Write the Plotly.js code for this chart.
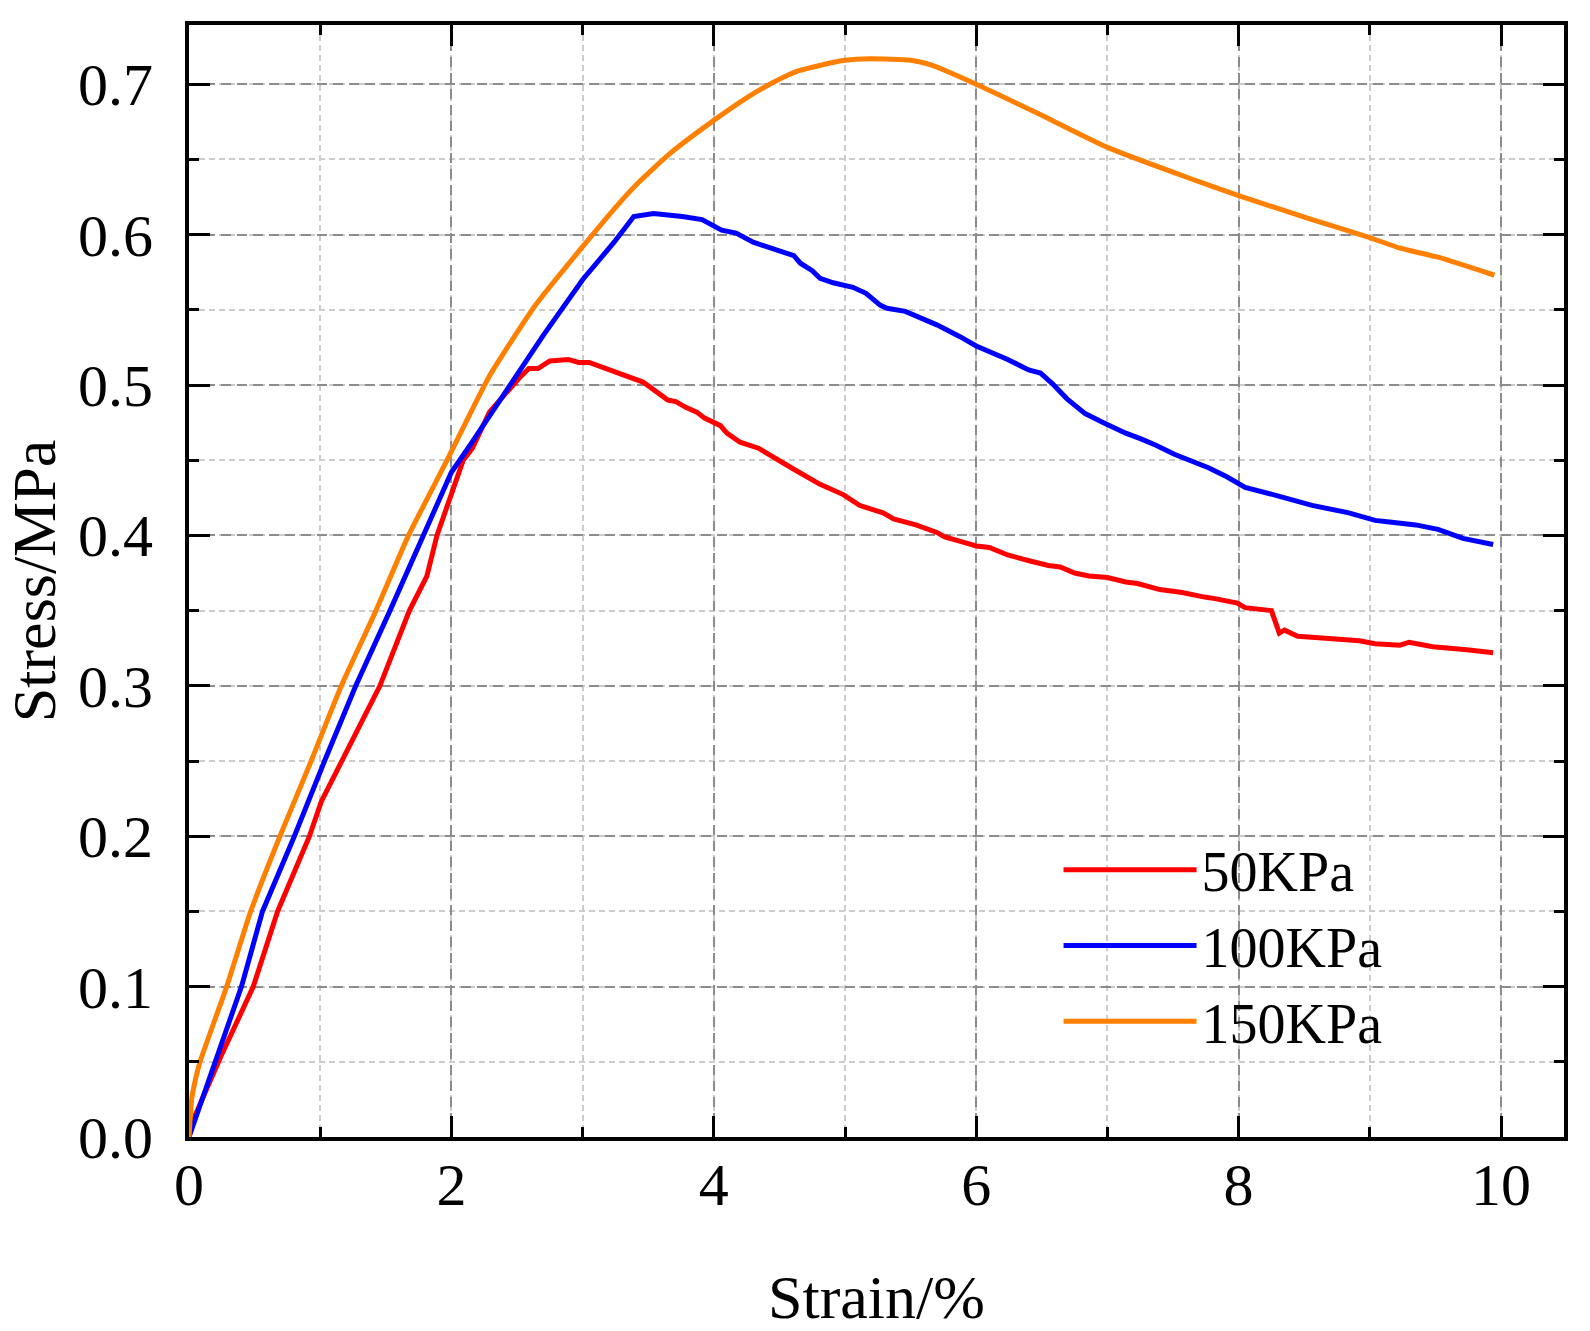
<!DOCTYPE html>
<html>
<head>
<meta charset="utf-8">
<script src="https://cdn.plot.ly/plotly-3.0.1.min.js"></script>
<style>
  body { margin: 0; background: #fff; }
  #chart_div { width: 1590px; height: 1331px; }
</style>
</head>
<body>
<div id="chart_div"></div>
<script>
// series (strain %, stress MPa)
var names = ["50KPa", "100KPa", "150KPa"];
var colors = ["#ff0000", "#0000ff", "#ff8000"];

var strain50 = [0, 0.03, 0.24, 0.49, 0.675, 0.918, 1.008, 1.161, 1.455, 1.68, 1.813, 1.89, 1.99, 2.09, 2.16,
    2.29, 2.51, 2.59, 2.66, 2.75, 2.89, 2.97, 3.05, 3.27, 3.41, 3.46, 3.65, 3.71, 3.79, 3.87, 3.93, 4.05,
    4.10, 4.20, 4.34, 4.45, 4.61, 4.81, 4.99, 5.11, 5.29, 5.37, 5.54, 5.70, 5.76, 5.88, 6.0, 6.10, 6.24,
    6.41, 6.55, 6.64, 6.75, 6.86, 7.0, 7.14, 7.23, 7.40, 7.57, 7.74, 7.82, 7.99, 8.05, 8.25, 8.31, 8.35,
    8.45, 8.61, 8.75, 8.92, 9.04, 9.23, 9.30, 9.48, 9.74, 9.94];
var stress50 = [0, 0.011, 0.053, 0.1, 0.15, 0.2, 0.223, 0.25, 0.3, 0.35, 0.373, 0.4, 0.424, 0.45, 0.458,
    0.482, 0.504, 0.511, 0.511, 0.516, 0.517, 0.515, 0.515, 0.508, 0.503, 0.502, 0.490, 0.489, 0.485,
    0.482, 0.478, 0.473, 0.468, 0.462, 0.458, 0.452, 0.444, 0.434, 0.427, 0.420, 0.415, 0.411, 0.407,
    0.402, 0.399, 0.396, 0.393, 0.392, 0.387, 0.383, 0.380, 0.379, 0.375, 0.373, 0.372, 0.369, 0.368,
    0.364, 0.362, 0.359, 0.358, 0.355, 0.352, 0.350, 0.335, 0.337, 0.333, 0.332, 0.331, 0.330, 0.328,
    0.327, 0.329, 0.326, 0.324, 0.322];

var strain100 = [0, 0.40, 0.56, 0.803, 1.033, 1.271, 1.532, 1.788, 2.0, 2.15, 2.42, 2.70, 3.0, 3.24,
    3.39, 3.54, 3.76, 3.91, 4.06, 4.17, 4.30, 4.47, 4.61, 4.66, 4.75, 4.81, 4.91, 5.06, 5.16, 5.27, 5.32,
    5.46, 5.57, 5.70, 5.88, 6.0, 6.24, 6.40, 6.49, 6.58, 6.69, 6.83, 6.97, 7.14, 7.26, 7.37, 7.51, 7.62,
    7.77, 7.91, 8.05, 8.27, 8.56, 8.84, 9.04, 9.15, 9.35, 9.52, 9.71, 9.94];
var stress100 = [0, 0.1, 0.15, 0.2, 0.25, 0.3, 0.35, 0.4, 0.442, 0.461, 0.496, 0.533, 0.570, 0.595,
    0.612, 0.614, 0.612, 0.610, 0.603, 0.601, 0.595, 0.590, 0.586, 0.581, 0.576, 0.571, 0.568, 0.565,
    0.561, 0.553, 0.551, 0.549, 0.545, 0.540, 0.532, 0.526, 0.517, 0.510, 0.508, 0.501, 0.491, 0.481,
    0.475, 0.468, 0.464, 0.460, 0.454, 0.450, 0.445, 0.439, 0.432, 0.427, 0.420, 0.415, 0.410, 0.409,
    0.407, 0.404, 0.398, 0.394];

var strain150 = [0, 0.02, 0.046, 0.084, 0.287, 0.47, 0.693, 0.931, 1.161, 1.425, 1.673, 1.967, 2.29,
    2.64, 3.0, 3.28, 3.43, 3.68, 4.0, 4.25, 4.47, 4.65, 4.83, 5.0, 5.19, 5.5, 5.65, 6.0, 6.46, 7.0, 7.61,
    8.0, 8.56, 9.0, 9.23, 9.52, 9.95];
var stress150 = [0, 0.025, 0.037, 0.05, 0.1, 0.15, 0.2, 0.25, 0.3, 0.35, 0.4, 0.45, 0.506, 0.553,
    0.592, 0.621, 0.635, 0.655, 0.676, 0.691, 0.702, 0.709, 0.713, 0.716, 0.717, 0.716, 0.713, 0.700,
    0.681, 0.658, 0.638, 0.626, 0.610, 0.598, 0.591, 0.585, 0.573];

var xTicks = [0, 2, 4, 6, 8, 10];
var yTicks = [0.0, 0.1, 0.2, 0.3, 0.4, 0.5, 0.6, 0.7];

function drawChart() {
    var xs = [strain50, strain100, strain150];
    var ys = [stress50, stress100, stress150];
    var data = [];
    for (var i = 0; i < 3; i++) {
        data.push({
            x: xs[i],
            y: ys[i],
            type: 'scatter',
            mode: 'lines',
            name: names[i],
            line: { color: colors[i], width: 5 }
        });
    }
    // the 150KPa curve is smooth in the original
    data[2].line.shape = 'spline';
    data[2].line.smoothing = 0.5;

    var serif = "Liberation Serif, Times New Roman, serif";

    function axisStyle() {
        return {
            showline: true,
            linecolor: 'black',
            linewidth: 4,
            mirror: 'allticks',
            ticks: 'inside',
            ticklen: 21,
            tickwidth: 3,
            tickcolor: 'black',
            zeroline: false,
            showgrid: true,
            gridcolor: '#8c8c8c',
            gridwidth: 2,
            griddash: '10px,6px',
            tickfont: { family: serif, size: 60, color: 'black' },
            minor: {
                ticks: 'inside',
                ticklen: 10,
                tickwidth: 3,
                tickcolor: 'black',
                showgrid: true,
                gridcolor: '#cccccc',
                gridwidth: 1.5,
                griddash: '6px,4px'
            }
        };
    }

    var xaxis = axisStyle();
    xaxis.range = [0, 10.48];
    xaxis.tickvals = xTicks;
    xaxis.ticktext = xTicks.map(String);
    xaxis.minor.dtick = 1;
    xaxis.ticklabelstandoff = -8;
    xaxis.title = { text: "Strain/%", font: { family: serif, size: 62, color: 'black' }, standoff: 67 };

    var yaxis = axisStyle();
    yaxis.range = [0, 0.7394];
    yaxis.tickvals = yTicks;
    yaxis.ticktext = yTicks.map(function (v) { return v.toFixed(1); });
    yaxis.minor.dtick = 0.05;
    yaxis.ticklabelstandoff = 20;
    yaxis.title = { text: "Stress/MPa", font: { family: serif, size: 62, color: 'black' }, standoff: 10 };

    var layout = {
        width: 1590,
        height: 1331,
        margin: { l: 189, r: 26, t: 25, b: 194 },
        paper_bgcolor: 'white',
        plot_bgcolor: 'white',
        xaxis: xaxis,
        yaxis: yaxis,
        showlegend: true,
        legend: {
            x: 0.6324,
            y: 0.279,
            xanchor: 'left',
            yanchor: 'top',
            bgcolor: 'rgba(0,0,0,0)',
            itemwidth: 133,
            font: { family: serif, size: 56, color: 'black' }
        }
    };

    Plotly.newPlot("chart_div", data, layout, { displayModeBar: false });
}

drawChart();
</script>
</body>
</html>
